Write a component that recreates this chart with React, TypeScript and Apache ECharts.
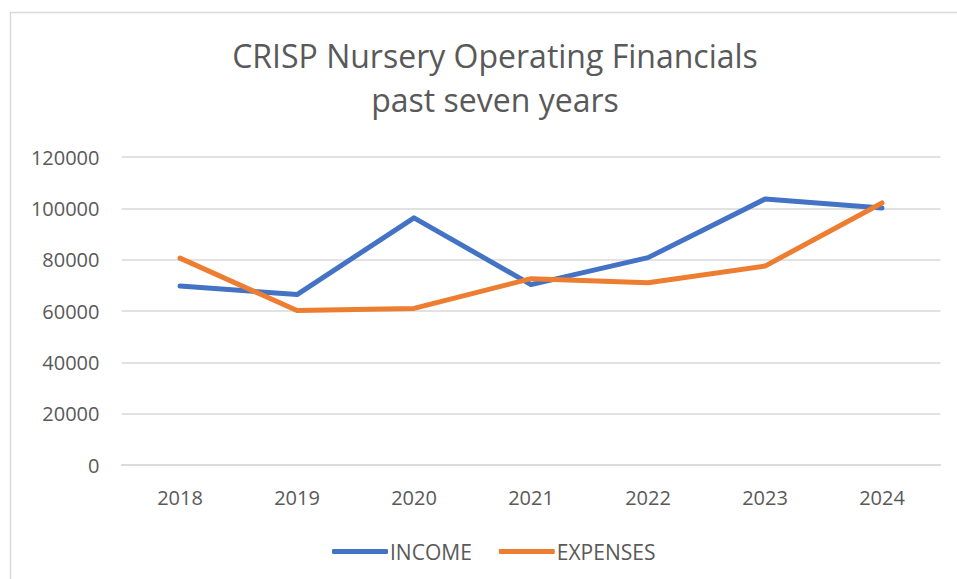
import React, { useEffect, useRef } from "react";
import * as echarts from "echarts";

const years = ["2018", "2019", "2020", "2021", "2022", "2023", "2024"];
const income = [69700, 66400, 96300, 70300, 80800, 103600, 100100];
const expenses = [80600, 60200, 61000, 72600, 71000, 77500, 102100];
const seriesNames = ["INCOME", "EXPENSES"];
const titleText = "CRISP Nursery Operating Financials\npast seven years";

const FONT = "'Open Sans', 'Noto Sans', sans-serif";
const TEXT = "#595959";
const GRID = "#D9D9D9";

export default function App() {
  const ref = useRef<HTMLDivElement>(null);
  useEffect(() => {
    if (!ref.current) return;
    const chart = echarts.init(ref.current, null, { renderer: "svg" });
    chart.setOption({
      animation: false,
      backgroundColor: "#ffffff",
      title: {
        text: titleText,
        left: 490,
        textAlign: "center",
        top: 28,
        textStyle: {
          fontFamily: FONT,
          fontSize: 32,
          fontWeight: "normal",
          color: TEXT,
          lineHeight: 44,
        },
      },
      graphic: [
        { type: "line", shape: { x1: 10, y1: 12.5, x2: 957, y2: 12.5 }, style: { stroke: GRID, lineWidth: 1.5 } },
        { type: "line", shape: { x1: 10.5, y1: 12, x2: 10.5, y2: 579 }, style: { stroke: GRID, lineWidth: 1.5 } },
      ],
      legend: {
        data: seriesNames,
        left: 327,
        top: 536,
        icon: "roundRect",
        itemWidth: 56,
        itemHeight: 5,
        itemGap: 27,
        textStyle: { fontFamily: FONT, fontSize: 21, color: TEXT, padding: [0, 0, 0, -3] },
      },
      grid: { left: 121.5, right: 16.5, top: 157, bottom: 114, containLabel: false },
      xAxis: {
        type: "category",
        data: years,
        boundaryGap: true,
        axisLine: { show: true, lineStyle: { color: GRID, width: 1.5 } },
        axisTick: { show: false },
        axisLabel: { fontFamily: FONT, fontSize: 20, color: TEXT, margin: 22 },
      },
      yAxis: {
        type: "value",
        min: 0,
        max: 120000,
        interval: 20000,
        axisLine: { show: false },
        axisTick: { show: false },
        axisLabel: {
          fontFamily: FONT,
          fontSize: 20,
          color: TEXT,
          margin: 22,
          formatter: (v: number) => String(v),
        },
        splitLine: { lineStyle: { color: GRID, width: 1.5 } },
      },
      series: [
        {
          name: seriesNames[0],
          type: "line",
          data: income,
          showSymbol: false,
          symbol: "none",
          color: "#4472C4",
          lineStyle: { color: "#4472C4", width: 5, cap: "round", join: "round" },
        },
        {
          name: seriesNames[1],
          type: "line",
          data: expenses,
          showSymbol: false,
          symbol: "none",
          color: "#ED7D31",
          lineStyle: { color: "#ED7D31", width: 5, cap: "round", join: "round" },
        },
      ],
    });
    return () => chart.dispose();
  }, []);
  return (
    <div
      ref={ref}
      style={{ position: "fixed", left: 0, top: 0, width: 957, height: 579 }}
    />
  );
}
